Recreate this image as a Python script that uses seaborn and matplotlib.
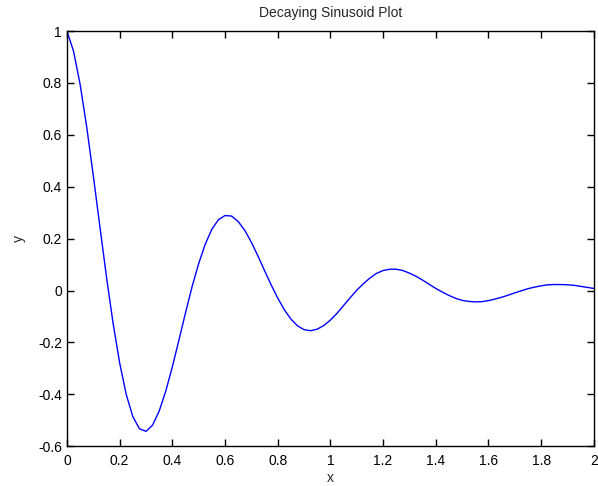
import numpy as np
import pandas as pd
import seaborn as sns
import matplotlib.pyplot as plt

# ================== DATA ==================
x_vals = np.linspace(0, 2, 81)
y_vals = [
    1.000, 0.922, 0.794, 0.630, 0.442, 0.246, 0.052, -0.126, -0.279, -0.401,
    -0.486, -0.533, -0.543, -0.519, -0.465, -0.388, -0.294, -0.191, -0.086, 0.015,
    0.104, 0.179, 0.236, 0.273, 0.289, 0.287, 0.266, 0.232, 0.186, 0.133,
    0.077, 0.022, -0.029, -0.074, -0.110, -0.136, -0.151, -0.155, -0.149, -0.135,
    -0.114, -0.088, -0.058, -0.028, 0.001, 0.026, 0.048, 0.066, 0.077, 0.082,
    0.082, 0.077, 0.067, 0.055, 0.040, 0.024, 0.008, -0.006, -0.019, -0.030,
    -0.038, -0.042, -0.044, -0.043, -0.039, -0.033, -0.026, -0.018, -0.009, -0.001,
    0.007, 0.013, 0.018, 0.022, 0.023, 0.023, 0.022, 0.020, 0.016, 0.012,
    0.008,
]
x_ticks = [0, 0.2, 0.4, 0.6, 0.8, 1, 1.2, 1.4, 1.6, 1.8, 2]
x_ticklabels = ["0", "0.2", "0.4", "0.6", "0.8", "1", "1.2", "1.4", "1.6", "1.8", "2"]
y_ticks = [-0.6, -0.4, -0.2, 0, 0.2, 0.4, 0.6, 0.8, 1]
y_ticklabels = ["-0.6", "-0.4", "-0.2", "0", "0.2", "0.4", "0.6", "0.8", "1"]

df = pd.DataFrame({"x": x_vals, "y": y_vals})

# ================== STYLE ==================
sns.set_style("ticks")
plt.rcParams["font.family"] = ["Liberation Sans", "DejaVu Sans"]
FS = 10

fig = plt.figure(figsize=(5.98, 4.86), dpi=100)
ax = fig.add_axes([0.112, 0.082, 0.881, 0.854])

sns.lineplot(data=df, x="x", y="y", color="#0000ff", linewidth=1.0, ax=ax)

ax.set_xlim(0, 2)
ax.set_ylim(-0.6, 1)
ax.set_xticks(x_ticks)
ax.set_xticklabels(x_ticklabels)
ax.set_yticks(y_ticks)
ax.set_yticklabels(y_ticklabels)
ax.tick_params(direction="in", length=5, width=1, top=True, right=True,
               labelsize=FS, colors="black")
ax.tick_params(axis="x", pad=5.5)
ax.tick_params(axis="y", pad=3.5)
for s in ax.spines.values():
    s.set_visible(True)
    s.set_linewidth(1.0)
    s.set_color("black")

ax.set_title("Decaying Sinusoid Plot", fontsize=FS, pad=10)
ax.set_xlabel("x", fontsize=FS, labelpad=2)
ax.set_ylabel("y", fontsize=FS, labelpad=8.5)

fig.savefig("out.png", dpi=100)
